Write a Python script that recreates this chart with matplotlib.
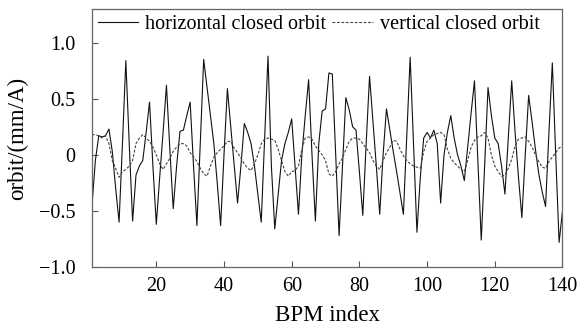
import matplotlib
matplotlib.use("Agg")
import matplotlib.pyplot as plt
import numpy as np

plt.rcParams["font.family"] = ["Liberation Serif", "DejaVu Serif"]

# BPM index 1..140
bpm = np.arange(1, 141)

horizontal = [
    -0.45, -0.05, 0.17, 0.16, 0.17, 0.23, 0.03, -0.30, -0.60, 0.10,
    0.84, 0.10, -0.59, -0.18, -0.10, -0.05, 0.20, 0.47, -0.10, -0.62,
    -0.20, 0.20, 0.62, 0.05, -0.48, -0.10, 0.21, 0.22, 0.35, 0.47,
    -0.10, -0.63, 0.10, 0.85, 0.60, 0.35, 0.10, -0.25, -0.63, 0.00,
    0.59, 0.25, -0.10, -0.43, -0.10, 0.28, 0.20, 0.10, -0.10, -0.35,
    -0.60, 0.15, 0.88, -0.10, -0.66, -0.35, -0.05, 0.10, 0.20, 0.32,
    -0.10, -0.53, 0.00, 0.35, 0.67, 0.00, -0.59, 0.10, 0.39, 0.41,
    0.73, 0.72, 0.00, -0.72, -0.10, 0.51, 0.40, 0.25, 0.22, -0.15,
    -0.54, 0.10, 0.70, 0.30, -0.10, -0.53, 0.00, 0.41, 0.22, 0.03,
    -0.15, -0.34, -0.53, 0.17, 0.87, 0.10, -0.69, -0.20, 0.15, 0.20,
    0.15, 0.22, 0.10, -0.43, 0.00, 0.20, 0.35, 0.15, 0.00, -0.10,
    -0.23, 0.07, 0.37, 0.66, -0.05, -0.76, -0.10, 0.60, 0.35, 0.15,
    0.10, -0.10, -0.35, 0.15, 0.66, 0.20, -0.20, -0.56, 0.00, 0.53,
    0.30, 0.05, -0.17, -0.33, -0.46, 0.20, 0.82, 0.00, -0.78, -0.50,
]

vertical = [
    0.18, 0.18, 0.17, 0.15, 0.17, 0.10, -0.05, -0.12, -0.20, -0.15,
    -0.13, -0.10, -0.05, 0.10, 0.15, 0.18, 0.15, 0.12, 0.07, 0.00,
    -0.08, -0.13, -0.08, -0.03, 0.03, 0.07, 0.10, 0.10, 0.08, 0.02,
    -0.02, -0.06, -0.12, -0.17, -0.19, -0.10, -0.02, 0.02, 0.05, 0.08,
    0.12, 0.12, 0.06, 0.02, -0.03, -0.08, -0.12, -0.14, -0.08, 0.00,
    0.10, 0.14, 0.15, 0.14, 0.13, 0.05, -0.05, -0.15, -0.19, -0.15,
    -0.14, -0.10, 0.05, 0.15, 0.16, 0.14, 0.08, 0.04, 0.00, -0.05,
    -0.17, -0.19, -0.15, -0.08, -0.03, 0.05, 0.12, 0.15, 0.15, 0.14,
    0.10, 0.06, 0.02, -0.05, -0.10, -0.13, -0.05, 0.02, 0.07, 0.13,
    0.12, 0.05, -0.01, -0.05, -0.08, -0.10, -0.11, -0.12, 0.03, 0.12,
    0.15, 0.18, 0.19, 0.20, 0.18, 0.05, -0.03, -0.07, -0.10, -0.13,
    -0.15, -0.05, 0.07, 0.13, 0.16, 0.17, 0.20, 0.15, 0.00, -0.10,
    -0.15, -0.19, -0.18, -0.12, -0.04, 0.08, 0.14, 0.15, 0.16, 0.12,
    0.07, 0.00, -0.06, -0.11, -0.12, -0.06, -0.02, 0.02, 0.06, 0.08,
]

x_ticks = [20, 40, 60, 80, 100, 120, 140]
y_ticks = [-1.0, -0.5, 0.0, 0.5, 1.0]
y_ticklabels = ["\u22121.0", "\u22120.5", "0", "0.5", "1.0"]

fig = plt.figure(figsize=(5.8, 3.29), dpi=100)
ax = fig.add_axes([0.1586, 0.1884, 0.8112, 0.7842])

ax.plot(bpm, horizontal, color="#111111", linewidth=0.8, label="horizontal closed orbit")
ax.plot(bpm, vertical, color="#444444", linewidth=0.8, linestyle=(0, (2.5, 1.5)),
        label="vertical closed orbit")

ax.set_xlim(1, 140)
ax.set_ylim(-1.0, 1.3)
ax.set_xticks(x_ticks)
ax.set_yticks(y_ticks)
ax.set_yticklabels(y_ticklabels)
ax.tick_params(direction="in", length=4, width=0.8, color="#555555", labelsize=14.5,
               top=False, right=False)
ax.tick_params(axis="x", pad=7)
ax.tick_params(axis="y", pad=12)
for s in ax.spines.values():
    s.set_color("#666666")
    s.set_linewidth(0.9)

ax.set_xlabel("BPM index", fontsize=16.5, labelpad=7)
ax.set_ylabel("orbit/(mm/A)", fontsize=16.5)
ax.yaxis.set_label_coords(-0.136, 0.5)

ax.legend(loc="upper left", ncol=2, frameon=False, fontsize=14.5,
          handlelength=2.0, columnspacing=0.3, handletextpad=0.35,
          borderaxespad=0.0, borderpad=0.3, bbox_to_anchor=(0.0, 1.0))

fig.savefig("out.png", dpi=100)
